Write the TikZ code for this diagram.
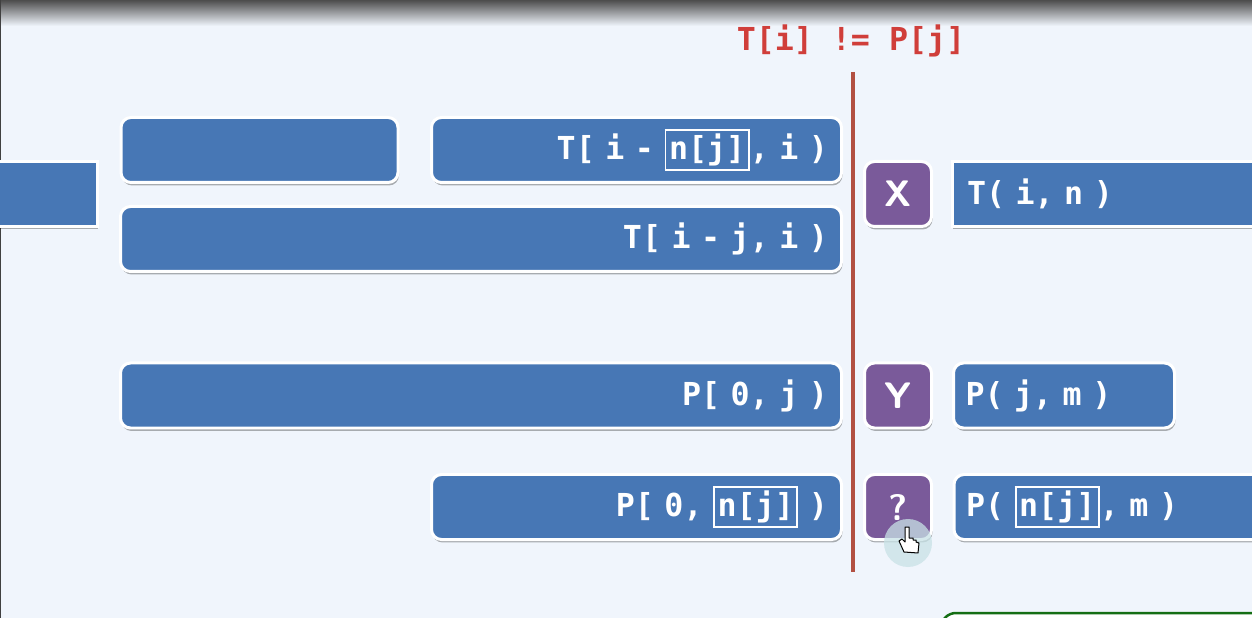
\documentclass[tikz,border=0pt]{standalone}
\usepackage{fontspec}
\usetikzlibrary{positioning,shadows,fadings}
\newfontfamily\codefont{DejaVu Sans Mono}
\definecolor{slidebg}{RGB}{240,245,252}
\definecolor{boxblue}{RGB}{71,119,181}
\definecolor{boxpurple}{RGB}{122,90,154}
\definecolor{linered}{RGB}{178,80,66}
\definecolor{titlered}{RGB}{208,62,58}
\definecolor{ringteal}{RGB}{200,226,230}
\definecolor{nextgreen}{RGB}{20,110,20}
\newcommand{\njbox}{{\setlength{\fboxsep}{1.5pt}\setlength{\fboxrule}{1.1pt}\fcolorbox{white}{boxblue}{n[j]}}}
\tikzset{
  x=0.02cm, y=-0.02cm,
  card/.style={draw=white, line width=0.06cm, rounded corners=0.2cm,
               inner sep=0pt, outer sep=0pt, text=white,
               font=\codefont\bfseries\fontsize{18}{20}\selectfont,
               drop shadow={shadow xshift=0.02cm, shadow yshift=-0.06cm, fill=black, opacity=0.3}},
  blubox/.style={card, fill=boxblue, minimum height=65*0.02cm, minimum width=#1*0.02cm},
  rtext/.style={align=right, text width=#1*0.02cm},
  ltext/.style={align=left, text width=#1*0.02cm},
  tag/.style={card, fill=boxpurple, minimum width=67*0.02cm, minimum height=65*0.02cm,
              font=\sffamily\bfseries\fontsize{21}{23}\selectfont},
  titletxt/.style={text=titlered, font=\codefont\bfseries\fontsize{18}{20}\selectfont},
}
\begin{document}
\begin{tikzpicture}
  % slide
  \clip (0,0) rectangle (1252,618);
  \fill[slidebg] (0,0) rectangle (1252,618);
  \shade[top color=black!70, bottom color=slidebg] (0,0) rectangle (1252,26);
  \fill[black!75] (0,0) rectangle (1.5,618);
  % next box, cut off below
  \draw[nextgreen, line width=0.05cm, fill=white, rounded corners=0.3cm] (941,640) -- (941,613) -- (1270,613) -- (1270,640);
  % left of the line
  \node[blubox=150, rounded corners=0pt] (stub) at (22,194) {};
  \node[blubox=277] (blank) at (259.5,150) {};
  \node[blubox=410, rtext=383, align=right] (prefix) at (636.5,150) {T[ i - \njbox, i )};
  \node[blubox=721, rtext=694] (whole) at (481,239) {T[ i - j, i )};
  \node[blubox=721, rtext=694] (pat) at (481,395.5) {P[ 0, j )};
  \node[blubox=410, rtext=383] (patn) at (636.5,507) {P[ 0, \njbox\ )};
  % red line
  \coordinate (ltop) at (853,72);
  \coordinate (lbot) at (853,572);
  \draw[linered, line width=0.065cm] (ltop) -- (lbot);
  \node[titletxt] (cond) at (851,41) {T[i] != P[j]};
  % tags
  \node[tag] (tagx) at (898,194) {X};
  \node[tag] (tagy) at (898,395.5) {Y};
  \node[tag] (tagq) at (898,507) {?};
  % right of the line
  \node[blubox=340, rounded corners=0pt, ltext=310] (rest) at (1122,194) {T( i, n )};
  \node[blubox=221, ltext=197] (restp) at (1064,395.5) {P( j, m )};
  \node[blubox=340, ltext=316] (restn) at (1124,507) {P( \njbox, m )};
  % pointer
  \fill[ringteal, opacity=0.75] (908,543) circle (24);
  \draw[black, fill=white, line width=0.02cm, line join=round]
    (904,552) -- (899,541) -- (902,539) -- (905,542) -- (905,527) -- (909,527) -- (909,538)
    -- (913,538) -- (913,540) -- (916,540) -- (916,542) -- (919,543) -- (918,553) -- cycle;
\end{tikzpicture}
\end{document}
